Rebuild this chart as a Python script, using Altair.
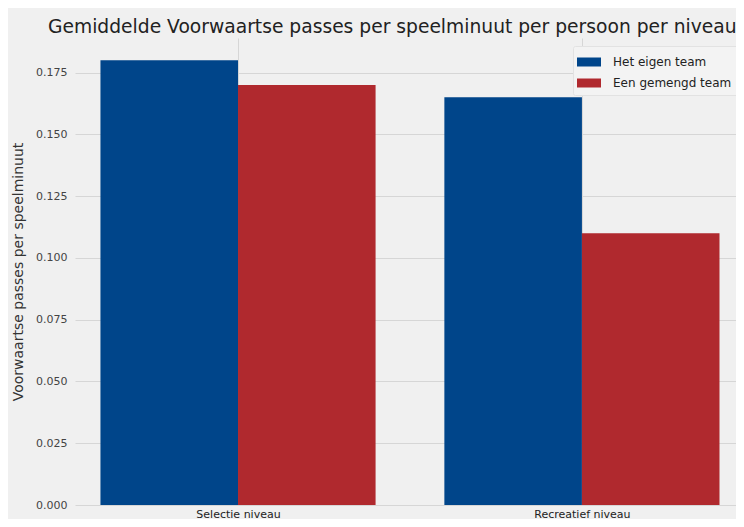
import altair as alt
import pandas as pd

categories = ["Selectie niveau", "Recreatief niveau"]
series = ["Het eigen team", "Een gemengd team"]
eigen_team = [0.180, 0.165]
gemengd_team = [0.170, 0.110]
y_ticks = [0.0, 0.025, 0.05, 0.075, 0.1, 0.125, 0.15, 0.175]
colors = ["#00458a", "#b0292e"]

rows = []
for i, cat in enumerate(categories):
    rows.append({"cat": cat, "idx": i, "serie": series[0], "s": 0, "value": eigen_team[i]})
    rows.append({"cat": cat, "idx": i, "serie": series[1], "s": 1, "value": gemengd_team[i]})
df = pd.DataFrame(rows)

W, H = 661, 467
bw = 0.4

label_expr = "datum.value == 0 ? '%s' : '%s'" % (categories[0], categories[1])

bars = alt.Chart(df).transform_calculate(
    x0=f"datum.idx + (datum.s - 1) * {bw}",
    x1=f"datum.idx + datum.s * {bw}",
).mark_bar().encode(
    x=alt.X("x0:Q",
            scale=alt.Scale(domain=[-0.474, 1.448], nice=False, zero=False),
            axis=alt.Axis(values=[0, 1], labelExpr=label_expr, title=None,
                          grid=True, gridColor="#d6d6d6", gridWidth=1,
                          domain=False, ticks=False, labelPadding=3,
                          labelFontSize=11, labelColor="#222",
                          labelFont="DejaVu Sans")),
    x2="x1:Q",
    y=alt.Y("value:Q",
            scale=alt.Scale(domain=[0, 0.189], nice=False),
            axis=alt.Axis(values=y_ticks, format=".3f",
                          title="Voorwaartse passes per speelminuut",
                          titleFontSize=14, titleFontWeight="normal",
                          titleColor="#333", titleFont="DejaVu Sans",
                          titlePadding=10,
                          labelFontSize=11, labelColor="#444",
                          labelFont="DejaVu Sans", labelPadding=8,
                          grid=True, gridColor="#d6d6d6", gridWidth=1,
                          domain=False, ticks=False)),
    y2=alt.datum(0),
    color=alt.Color("serie:N",
                    scale=alt.Scale(domain=series, range=colors),
                    legend=alt.Legend(
                        title=None, orient="none", legendX=498, legendY=8,
                        symbolType="M-1.2,-0.45L1.2,-0.45L1.2,0.45L-1.2,0.45Z",
                        symbolSize=400, symbolStrokeWidth=0,
                        labelFontSize=12, labelColor="#222",
                        labelFont="DejaVu Sans", labelOffset=14,
                        rowPadding=5, padding=6,
                        fillColor="#f3f3f3", strokeColor="#e2e2e2",
                        cornerRadius=2)),
)

chart = bars.properties(
    width=W, height=H,
    autosize=alt.AutoSizeParams(type="none"),
    padding={"left": 67, "top": 30, "right": 0, "bottom": 14},
    background="#f0f0f0",
    title=alt.TitleParams(
        "Gemiddelde Voorwaartse passes per speelminuut per persoon per niveau",
        anchor="start", frame="group", dx=-27, offset=1, fontSize=18.7,
        fontWeight="normal", font="DejaVu Sans", color="#222"),
).configure_view(stroke=None, fill="#f0f0f0")

chart.save("out.html", embed_options={"renderer": "svg", "actions": False})
